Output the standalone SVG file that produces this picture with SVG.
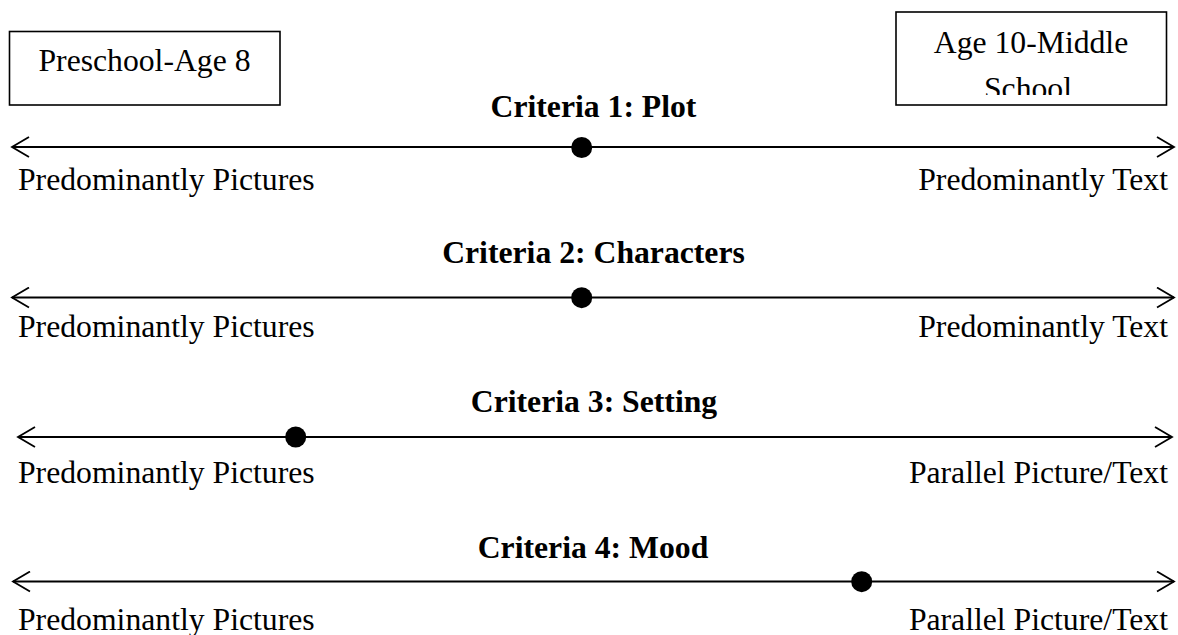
<svg xmlns="http://www.w3.org/2000/svg" width="1178" height="635" viewBox="0 0 1178 635">
  <style>
    text { font-family: "Liberation Serif", "Times New Roman", serif; font-size: 31.7px; fill: #000; }
    .title { font-weight: bold; text-anchor: middle; }
    .mid { text-anchor: middle; }
    .end { text-anchor: end; }
    .box { fill: #fff; stroke: #000; stroke-width: 1.6; }
    .axis { stroke: #000; stroke-width: 2; fill: none; }
    .dot { fill: #000; }
  </style>
  <defs>
    <marker id="arrow" markerUnits="userSpaceOnUse" viewBox="-19 -11 21 22" markerWidth="21" markerHeight="22" refX="0" refY="0" orient="auto-start-reverse">
      <path d="M -17 -10 L 0 0 L -17 10" fill="none" stroke="#000" stroke-width="1.8"/>
    </marker>
    <clipPath id="clip2">
      <rect x="895" y="12" width="272" height="83"/>
    </clipPath>
  </defs>
  <rect width="1178" height="635" fill="#fff"/>

  <g id="box-preschool">
    <rect class="box" x="9.5" y="31.5" width="270.5" height="73.5"/>
    <text class="mid" x="144.5" y="71">Preschool-Age 8</text>
  </g>
  <g id="box-middle">
    <rect class="box" x="896" y="12" width="270.5" height="93"/>
    <g clip-path="url(#clip2)">
      <text class="mid" x="1031" y="53.3">Age 10-Middle</text>
      <text class="mid" x="1028" y="99.3">School</text>
    </g>
  </g>

  <g id="connectors">
    <line class="axis" x1="12" y1="147" x2="1174" y2="147" marker-start="url(#arrow)" marker-end="url(#arrow)"/>
    <line class="axis" x1="12" y1="297.5" x2="1174" y2="297.5" marker-start="url(#arrow)" marker-end="url(#arrow)"/>
    <line class="axis" x1="18" y1="437" x2="1172" y2="437" marker-start="url(#arrow)" marker-end="url(#arrow)"/>
    <line class="axis" x1="13" y1="581.5" x2="1174" y2="581.5" marker-start="url(#arrow)" marker-end="url(#arrow)"/>
  </g>

  <g id="criteria-1">
    <text class="title" x="593.5" y="116.7">Criteria 1: Plot</text>
    <circle class="dot" cx="581.7" cy="147.5" r="10.5"/>
    <text x="18" y="190">Predominantly Pictures</text>
    <text class="end" x="1168" y="190">Predominantly Text</text>
  </g>
  <g id="criteria-2">
    <text class="title" x="593.5" y="263.3">Criteria 2: Characters</text>
    <circle class="dot" cx="581.7" cy="297.7" r="10.5"/>
    <text x="18" y="336.7">Predominantly Pictures</text>
    <text class="end" x="1168" y="336.7">Predominantly Text</text>
  </g>
  <g id="criteria-3">
    <text class="title" x="594" y="411.7">Criteria 3: Setting</text>
    <circle class="dot" cx="295.7" cy="437" r="10.5"/>
    <text x="18" y="483">Predominantly Pictures</text>
    <text class="end" x="1168" y="483">Parallel Picture/Text</text>
  </g>
  <g id="criteria-4">
    <text class="title" x="593" y="558.3">Criteria 4: Mood</text>
    <circle class="dot" cx="861.7" cy="581.7" r="10.5"/>
    <text x="18" y="630">Predominantly Pictures</text>
    <text class="end" x="1168" y="630">Parallel Picture/Text</text>
  </g>
</svg>
